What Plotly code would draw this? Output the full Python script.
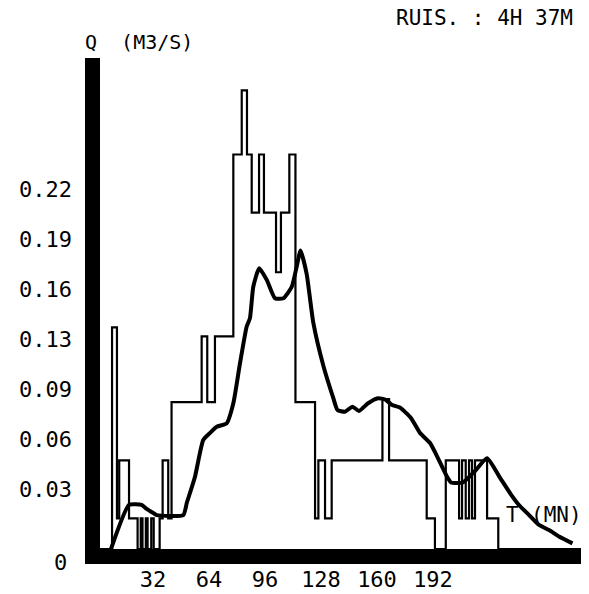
import plotly.graph_objects as go

# ---------------- data ----------------
# observed (stepped) discharge: time (min) where each level starts, level (m3/s)
step_t = [0, 8.6, 11.4, 12.7, 18.3, 23.2, 25.0, 26.0, 27.9, 28.9, 31.0, 32.4, 35.8,
          37.5, 40.7, 42.6, 59.8, 63.0, 67.4, 77.9, 82.7, 85.7, 88.4, 92.6, 95.4,
          102.3, 105.1, 109.9, 113.4, 124.6, 126.5, 130.3, 134.1, 163.1, 166.9,
          188.4, 193.1, 199.3, 206.9, 208.6, 210.7, 212.6, 214.3, 216.0, 222.9,
          229.3, 277.0]
step_q = [0, 0.145, 0.020, 0.058, 0.020, 0, 0.020, 0, 0.020, 0, 0.020, 0, 0.020,
          0.058, 0.020, 0.096, 0.139, 0.096, 0.139, 0.258, 0.300, 0.258, 0.220, 0.258, 0.220,
          0.181, 0.220, 0.258, 0.096, 0.020, 0.058, 0.020, 0.058, 0.098, 0.058,
          0.020, 0, 0.058, 0.020, 0.058, 0.020, 0.058, 0.020, 0.058, 0.020,
          0, 0]

# simulated (smooth) hydrograph
curve_t = [8.0, 18.3, 25.5, 28.4, 31.5, 34.1, 49.3, 51.3, 56.0, 60.7, 64.6, 68.4, 74.1,
           77.9, 81.7, 85.5, 87.4, 89.3, 92.7, 97.0, 101.7, 106.5, 111.3, 114.1, 116.3,
           119.8, 123.6, 129.3, 135.0, 137.4, 141.7, 146.0, 149.7, 154.9, 160.6, 164.6,
           168.6, 173.1, 179.4, 184.6, 190.3, 193.7, 200.0, 202.3, 209.1, 216.0, 222.9,
           229.7, 236.0, 241.1, 246.9, 252.6, 258.3, 264.0, 271.7]
curve_q = [0.0, 0.0288, 0.0288, 0.0262, 0.0240, 0.0222, 0.0222, 0.0301, 0.0473, 0.0713,
           0.0759, 0.0800, 0.0822, 0.0953, 0.1214, 0.1454, 0.1510, 0.1715, 0.1836, 0.1760,
           0.1640, 0.1640, 0.1715, 0.1846, 0.1952, 0.1800, 0.1480, 0.1200, 0.0988, 0.0909,
           0.0898, 0.0931, 0.0903, 0.0953, 0.0986, 0.0978, 0.0942, 0.0925, 0.0857, 0.0759,
           0.0693, 0.0621, 0.0473, 0.0435, 0.0435, 0.0510, 0.0593, 0.0477, 0.0366, 0.0288,
           0.0222, 0.0157, 0.0124, 0.0082, 0.0037]

x_tick_vals = [32, 64, 96, 128, 160, 192]
x_tick_text = ["32", "64", "96", "128", "160", "192"]
y_tick_vals = [0.0327, 0.0654, 0.0981, 0.1308, 0.1635, 0.1962, 0.2289]
y_tick_text = ["0.03", "0.06", "0.09", "0.13", "0.16", "0.19", "0.22"]

t_max = 277.0  # 4H 37M
y_label = "Q  (M3/S)"
x_label_t = "T"
x_label_unit = "(MN)"
duration_label = "RUIS. : 4H 37M"

assert len(step_t) == len(step_q)
assert len(curve_t) == len(curve_q)

# ---------------- layout geometry (pixels, in the 589x594 window) ----------------
PAGE_OFF = 8                      # default body margin of the html page
WIN_W, WIN_H = 589, 594
W, H = WIN_W - PAGE_OFF, WIN_H - PAGE_OFF
PL, PR, PT, PB = 85, 589, 50, 564  # plot area in window pixels
L, T = PL - PAGE_OFF, PT - PAGE_OFF
R, B = (WIN_W - PR), (WIN_H - PB)
plot_w = PR - PL
plot_h = PB - PT
PX_PER_MIN = 1.75
X0_PX = 97
Q_PER_PX = 0.0327 / 50
Y0_PX = 549

def tx(px):
    return (px - X0_PX) / PX_PER_MIN

def qy(py):
    return (Y0_PX - py) * Q_PER_PX

def paper_x(px):
    return (px - PL) / plot_w

def paper_y(py):
    return (PB - py) / plot_h

FONT = "DejaVu Sans Mono"
FS = 22

fig = go.Figure()
fig.add_trace(go.Scatter(x=step_t, y=step_q, mode="lines",
                         line=dict(color="black", width=2.2, shape="hv"),
                         hoverinfo="skip", showlegend=False))
fig.add_trace(go.Scatter(x=curve_t, y=curve_q, mode="lines",
                         line=dict(color="black", width=4, shape="spline", smoothing=0.5),
                         hoverinfo="skip", showlegend=False))

# thick plotter axes
fig.add_shape(type="line", xref="x", yref="y",
              x0=tx(92.5), x1=tx(92.5), y0=qy(58), y1=qy(564),
              line=dict(color="black", width=15), layer="above")
fig.add_shape(type="line", xref="x", yref="y",
              x0=tx(85), x1=t_max, y0=qy(556.5), y1=qy(556.5),
              line=dict(color="black", width=15), layer="above")

fig.update_layout(
    width=W, height=H,
    margin=dict(l=L, r=R, t=T, b=B, pad=0),
    paper_bgcolor="white", plot_bgcolor="white",
    font=dict(family=FONT, size=FS, color="black"),
    xaxis=dict(range=[tx(PL), tx(PR)], showgrid=False, zeroline=False,
               showline=False, ticks="", tickvals=x_tick_vals, ticktext=x_tick_text,
               tickfont=dict(family=FONT, size=FS, color="black")),
    yaxis=dict(range=[qy(PB), qy(PT)], showgrid=False, zeroline=False,
               showline=False, ticks="", tickvals=y_tick_vals, ticktext=y_tick_text,
               ticklabelshift=-10, ticklabelstandoff=12,
               tickfont=dict(family=FONT, size=FS, color="black")),
)

fig.add_annotation(text="0", xref="paper", x=0, xanchor="right", xshift=-16,
                   yref="y", y=0, yanchor="middle", yshift=-13, showarrow=False,
                   font=dict(family=FONT, size=FS, color="black"))
fig.add_annotation(text=y_label, xref="paper", x=paper_x(83), xanchor="left",
                   yref="paper", y=paper_y(42), yanchor="middle", showarrow=False,
                   font=dict(family=FONT, size=FS - 2, color="black"))
fig.add_annotation(text=duration_label, xref="paper", x=paper_x(394), xanchor="left",
                   yref="paper", y=paper_y(18), yanchor="middle", showarrow=False,
                   font=dict(family=FONT, size=FS - 1, color="black"))
fig.add_annotation(text=x_label_t, xref="x", x=tx(504), xanchor="left",
                   yref="y", y=qy(515), yanchor="middle", showarrow=False,
                   font=dict(family=FONT, size=FS - 1, color="black"))
fig.add_annotation(text=x_label_unit, xref="x", x=tx(584), xanchor="right",
                   yref="y", y=qy(515), yanchor="middle", showarrow=False,
                   font=dict(family=FONT, size=FS - 1, color="black"))

fig.write_html("out.html")
